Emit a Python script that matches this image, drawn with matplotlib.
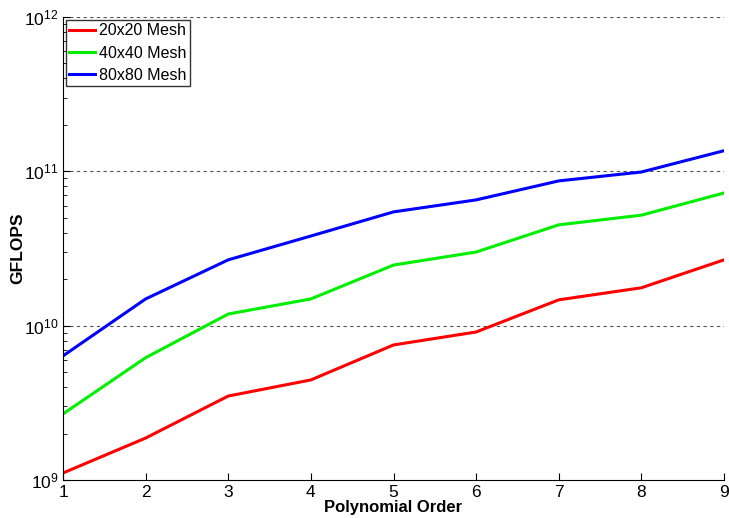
import matplotlib
matplotlib.use('Agg')
import matplotlib.pyplot as plt

plt.rcParams['font.family'] = ['Liberation Sans', 'DejaVu Sans']
plt.rcParams['mathtext.fontset'] = 'custom'
plt.rcParams['mathtext.rm'] = 'Liberation Sans'

# ─── data ──────────────────────────────────────────────
order = [1, 2, 3, 4, 5, 6, 7, 8, 9]
mesh20 = [1.11e9, 1.87e9, 3.5e9, 4.45e9, 7.5e9, 9.1e9, 1.47e10, 1.76e10, 2.67e10]
mesh40 = [2.68e9, 6.2e9, 1.19e10, 1.49e10, 2.47e10, 3.0e10, 4.5e10, 5.2e10, 7.24e10]
mesh80 = [6.37e9, 1.49e10, 2.67e10, 3.81e10, 5.46e10, 6.53e10, 8.67e10, 9.9e10, 1.36e11]
labels = ['20x20 Mesh', '40x40 Mesh', '80x80 Mesh']

fig = plt.figure(figsize=(7.29, 5.18), dpi=100)
ax = fig.add_axes([63/729, 1 - 480/518, (724-63)/729, (480-17)/518])

ax.plot(order, mesh20, color='#ff0000', lw=2.2, label=labels[0])
ax.plot(order, mesh40, color='#00ee00', lw=2.2, label=labels[1])
ax.plot(order, mesh80, color='#0000ff', lw=2.2, label=labels[2])

ax.set_yscale('log')
ax.set_xlim(1, 9)
ax.set_ylim(1e9, 1e12)
ax.set_xticks(order)

for y in [1e10, 1e11, 1e12]:
    ax.axhline(y, color='#555555', ls=(0, (3, 3)), lw=0.8, zorder=0)

ax.spines['top'].set_visible(False)
ax.spines['right'].set_visible(False)
ax.tick_params(which='both', direction='in', labelsize=12.5)
ax.tick_params(which='major', length=5)
ax.tick_params(which='minor', length=3)
ax.tick_params(axis='x', which='minor', bottom=False)
ax.tick_params(axis='x', pad=3.5)
ax.tick_params(axis='y', pad=3)

ax.set_xlabel('Polynomial Order', fontsize=12, fontweight='bold')
ax.set_ylabel('GFLOPS', fontsize=12.5, fontweight='bold')
ax.xaxis.set_label_coords(0.5, -0.043)
ax.yaxis.set_label_coords(-0.057, 0.5)

leg = ax.legend(loc='upper left', fontsize=11.5, frameon=True, fancybox=False,
                edgecolor='black', borderaxespad=0.2, handlelength=1.6,
                borderpad=0.2, labelspacing=0.45, handletextpad=0.25)
leg.get_frame().set_linewidth(1.0)

fig.savefig('out.png', dpi=100)
